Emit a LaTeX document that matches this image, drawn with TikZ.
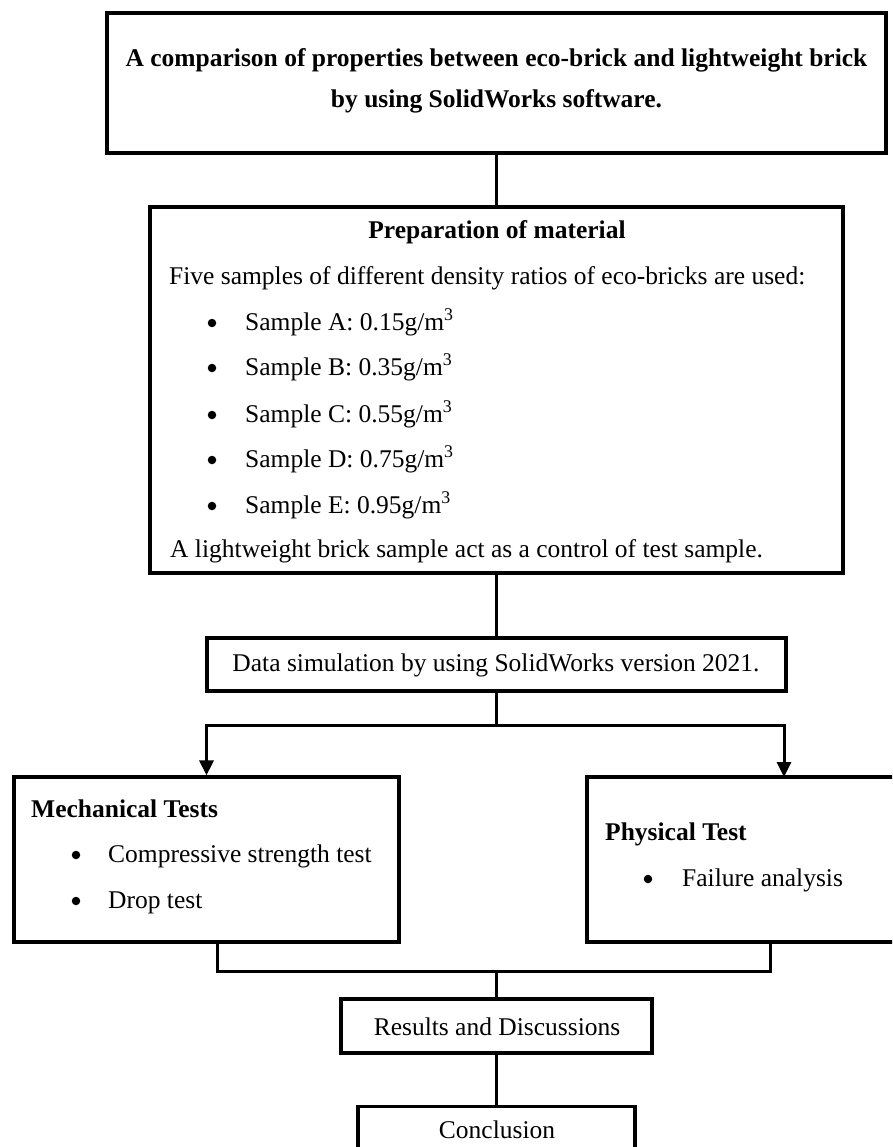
\documentclass[tikz,border=0pt]{standalone}
\usepackage{fontspec}
\setmainfont{Liberation Serif}
\usetikzlibrary{arrows.meta}
\tikzset{
  box/.style={draw, line width=3.2pt, inner sep=0pt, line join=miter},
  conn/.style={line width=3pt, line join=miter},
  arr/.style={conn, -{Triangle[length=15pt,width=14pt]}},
  bul/.style={circle, fill, inner sep=0pt, minimum size=8.5pt},
  txt/.style={anchor=base west, inner sep=0pt, font=\fontsize{25.5}{30}\selectfont},
  ctxt/.style={anchor=base, inner sep=0pt, font=\fontsize{25.5}{30}\selectfont},
  btxt/.style={anchor=base, inner sep=0pt, font=\fontsize{25.5}{30}\selectfont\bfseries},
  bltxt/.style={anchor=base west, inner sep=0pt, font=\fontsize{25.5}{30}\selectfont\bfseries},
}
\begin{document}
\begin{tikzpicture}[x=1pt,y=-1pt]
\useasboundingbox (0,0) rectangle (892,1147);
\clip (0,0) rectangle (892,1147);
% boxes
\node[box, minimum width=779pt, minimum height=140pt] (top) at (496.5,83) {};
\node[box, minimum width=693pt, minimum height=366pt] (prep) at (496.5,390) {};
\node[box, minimum width=579pt, minimum height=53pt] (data) at (496.5,664.5) {};
\node[box, minimum width=385pt, minimum height=165pt] (mech) at (206.5,859.5) {};
\node[box, minimum width=318pt, minimum height=165pt] (phys) at (746,859.5) {};
\node[box, minimum width=311pt, minimum height=54pt] (res) at (496.5,1026) {};
\node[box, minimum width=277pt, minimum height=80pt, anchor=north] (conc) at (496.5,1105) {};
% texts
\node[btxt] (t1) at (496.5,67) {A comparison of properties between eco-brick and lightweight brick};
\node[btxt] (t2) at (496.5,108) {by using SolidWorks software.};
\node[btxt] (p0) at (497,239) {Preparation of material};
\node[txt] (p1) at (169,285) {Five samples of different density ratios of eco-bricks are used:};
\foreach \n/\y/\s in {a/330/A: 0.15,b/375/B: 0.35,c/422/C: 0.55,d/467/D: 0.75,e/513/E: 0.95}{
  \node[bul] (bul\n) at (212,\y-7) {};
  \node[txt] (s\n) at (245,\y) {Sample \s g/m\textsuperscript{3}};
}
\node[txt] (p2) at (170,557) {A lightweight brick sample act as a control of test sample.};
\node[ctxt] (dt) at (496,671) {Data simulation by using SolidWorks version 2021.};
\node[bltxt] (mt) at (31,817) {Mechanical Tests};
\node[bul] (mb1) at (76,855) {};
\node[txt] (m1) at (108,862) {Compressive strength test};
\node[bul] (mb2) at (76,901) {};
\node[txt] (m2) at (108,908) {Drop test};
\node[bltxt] (pt) at (605,840) {Physical Test};
\node[bul] (pb1) at (648,879) {};
\node[txt] (f1) at (682,886) {Failure analysis};
\node[ctxt] (rt) at (497,1035) {Results and Discussions};
\node[ctxt] (ct) at (497,1138) {Conclusion};
% connectors
\coordinate (j1) at (496.5,725);
\coordinate (physin) at (784,777);
\coordinate (mechout) at (217,942);
\coordinate (physout) at (770,942);
\coordinate (jl) at (217,971);
\coordinate (jr) at (770,971);
\coordinate (j2) at (496.5,971);
\draw[conn] (top.south) -- (prep.north);
\draw[conn] (prep.south) -- (data.north);
\draw[conn] (data.south) -- (j1);
\draw[arr] (j1) -| (mech.north);
\draw[arr] (j1) -| (physin);
\draw[conn] (mechout) -- (jl) -- (jr) -- (physout);
\draw[conn] (j2) -- (res.north);
\draw[conn] (res.south) -- (conc.north);
\end{tikzpicture}
\end{document}
